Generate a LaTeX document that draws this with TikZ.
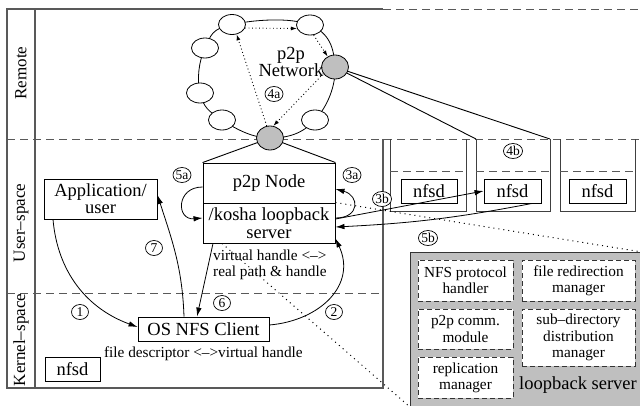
\documentclass[tikz,border=0pt]{standalone}
\usepackage{fontspec}
\setmainfont{Liberation Serif}
\usetikzlibrary{shapes.geometric,arrows.meta}
\newcommand{\fmain}{\fontsize{18.5}{16}\selectfont}
\newcommand{\fsmall}{\fontsize{15.3}{16.2}\selectfont}
\newcommand{\fside}{\fontsize{17}{17}\selectfont}
\newcommand{\flbl}{\fontsize{13.5}{13.5}\selectfont}
\begin{document}
\begin{tikzpicture}[x=1pt,y=1pt,
  frame/.style={draw=black!65, line width=1.1pt},
  sep/.style={draw=black!65, line width=1pt, dash pattern=on 8pt off 5pt},
  ringnode/.style={ellipse, draw, fill=white, line width=0.8pt, minimum width=27pt, minimum height=20pt, inner sep=0pt},
  peer/.style={ringnode, fill=gray!50, minimum height=24pt},
  box/.style={draw, fill=white, line width=0.9pt, align=center, inner sep=0pt, font=\fmain},
  ibox/.style={draw=black!80, fill=white, dash pattern=on 5pt off 3pt, line width=0.9pt, align=center, inner sep=0pt, font=\fsmall},
  lbl/.style={ellipse, draw, fill=white, line width=0.7pt, inner sep=0pt, minimum width=17pt, minimum height=15pt, font=\flbl},
  arr/.style={-{Latex[length=9pt,width=5.5pt]}, line width=0.8pt},
  dotarr/.style={-{Latex[length=6pt,width=4pt]}, line width=0.9pt, dash pattern=on 0.9pt off 2.6pt},
  zoomline/.style={line width=1pt, dash pattern=on 1pt off 4pt},
  col/.style={draw=black!75, line width=1pt},
  plain/.style={line width=0.9pt}
]
\useasboundingbox (0,0) rectangle (640,-405);
\clip (0,0) rectangle (640,-405);

% frame and layer separators
\draw[frame] (383,-9) -- (7,-9) -- (7,-388) -- (383,-388) -- (383,-139);
\draw[frame] (35,-9) -- (35,-388);
\draw[sep] (383,-9) -- (640,-9);
\draw[sep] (7,-139) -- (640,-139);
\draw[sep] (7,-293) -- (383,-293);

\node[rotate=90, font=\fside] (rem) at (21,-73) {Remote};
\node[rotate=90, font=\fside] (usr) at (21,-223) {User–space};
\node[rotate=90, font=\fside] (ker) at (21,-340) {Kernel–space};

% remote nfsd columns
\foreach \a/\b in {390/466, 476/550, 560/635}{
  \draw[col] (\a,-139) -- (\a,-211) -- (\b,-211) -- (\b,-139);
  \draw[sep] (\a,-171) -- (\b,-171);
}
\coordinate (c2a) at (476,-139);
\coordinate (c2b) at (550,-139);

% p2p ring
\coordinate (p1) at (232,-24.5);
\coordinate (p2) at (310,-25);
\coordinate (p3) at (335,-67);
\coordinate (p4) at (315,-120);
\coordinate (p5) at (270,-138);
\coordinate (p6) at (222,-120);
\coordinate (p7) at (200,-93);
\coordinate (p8) at (205,-48);
\draw[line width=0.8pt] plot[smooth cycle, tension=0.7] coordinates {(p1) (p2) (p3) (p4) (p5) (p6) (p7) (p8)};
\node[ringnode] (n1) at (p1) {};
\node[ringnode] (n2) at (p2) {};
\node[peer] (n3) at (p3) {};
\node[ringnode] (n4) at (p4) {};
\node[peer] (n5) at (p5) {};
\node[ringnode] (n6) at (p6) {};
\node[ringnode] (n7) at (p7) {};
\node[ringnode] (n8) at (p8) {};
\node[font=\fontsize{18.5}{15}\selectfont, align=center, inner sep=0pt] (net) at (291,-62) {p2p\\Network};

\draw[dotarr] (n1.-15) -- (n2.-165);
\draw[dotarr] (n2.-70) -- (n3.125);
\draw[dotarr] (n3.-150) -- (n5.75);
\draw[dotarr] (n5.105) -- (n1.-65);

\draw[plain] (n3) -- (c2a);
\draw[plain] (n3) -- (c2b);

% boxes
\node[box, minimum width=132pt, minimum height=40pt] (p2p) at (269,-183) {p2p Node};
\node[box, minimum width=132pt, minimum height=40pt, font=\fontsize{18.5}{17.5}\selectfont] (kosha) at (269,-223) {/kosha loopback\\server};
\node[box, minimum width=113pt, minimum height=40pt, font=\fontsize{18.5}{17}\selectfont] (app) at (100.5,-199) {Application/\\user};
\node[box, minimum width=131pt, minimum height=24pt] (osnfs) at (203.5,-329) {OS NFS Client};
\node[box, minimum width=55pt, minimum height=24pt] (knfsd) at (72.5,-369) {nfsd};
\node[box, minimum width=56pt, minimum height=24pt] (nfsd1) at (429,-191) {nfsd};
\node[box, minimum width=57pt, minimum height=24pt] (nfsd2) at (512.5,-191) {nfsd};
\node[box, minimum width=57pt, minimum height=24pt] (nfsd3) at (597.5,-191) {nfsd};

\draw[plain] (n5) -- (p2p.north west);
\draw[plain] (n5) -- (p2p.north east);

\node[font=\fsmall, align=left, anchor=west, inner sep=0pt] (vh) at (213,-265) {virtual handle <–>\\real path \& handle};
\node[font=\fsmall, inner sep=0pt] (fd) at (203.4,-354) {file descriptor <–>virtual handle};

% loopback server detail
\node[draw=black!80, fill=gray!50, line width=1pt, minimum width=231pt, minimum height=154pt, anchor=north west, inner sep=0pt] (lb) at (410,-252) {};
\node[ibox, minimum width=95pt, minimum height=41pt] (nfsp) at (465.5,-280.5) {NFS protocol\\handler};
\node[ibox, minimum width=113pt, minimum height=41pt] (fred) at (578.5,-280.5) {file redirection\\manager};
\node[ibox, minimum width=95pt, minimum height=40pt] (pcomm) at (465.5,-329) {p2p comm.\\module};
\node[ibox, minimum width=113pt, minimum height=57pt] (subd) at (578.5,-337.5) {sub–directory\\distribution\\manager};
\node[ibox, minimum width=95pt, minimum height=41pt] (repl) at (465.5,-377.5) {replication\\manager};
\node[font=\fmain, inner sep=0pt] (lbt) at (578,-385) {loopback server};

\draw[zoomline] (kosha.north east) -- (lb.north east);
\draw[zoomline] ([xshift=-47pt]kosha.south) -- (lb.south west);

% connectors
\draw[arr] ([xshift=-47.5pt]app.south) to[out=-85, in=160] ([yshift=2pt]osnfs.west);
\draw[arr] ([xshift=-19.5pt]osnfs.north) to[out=92, in=-72] ([yshift=4pt]app.east);
\draw[arr] ([xshift=-56pt]kosha.south) -- ([xshift=-6.5pt]osnfs.north);
\draw[arr] ([yshift=4pt]osnfs.east) to[out=5, in=-65, looseness=1.2] ([yshift=5pt]kosha.south east);
\draw[arr] ([yshift=-4pt]p2p.west) to[out=180, in=185, looseness=2.2] ([yshift=5pt]kosha.west);
\draw[arr] ([yshift=5pt]kosha.east) to[out=0, in=-15, looseness=2.2] ([yshift=-6pt]p2p.east);
\draw[arr] ([yshift=4pt]kosha.east) -- (nfsd2.west);
\draw[arr] ([xshift=19.5pt]nfsd2.south) to[bend left=4] ([yshift=-4pt]kosha.east);

% step labels
\node[lbl] (l1) at (80,-312) {1};
\node[lbl] (l2) at (334,-312) {2};
\node[lbl] (l6) at (222,-303) {6};
\node[lbl] (l7) at (154,-248) {7};
\node[lbl] (l5a) at (182,-175) {5a};
\node[lbl] (l3a) at (352,-175) {3a};
\node[lbl] (l3b) at (382,-199) {3b};
\node[lbl] (l4b) at (513,-151) {4b};
\node[lbl] (l5b) at (428,-238) {5b};
\node[lbl] (l4a) at (274,-94) {4a};
\end{tikzpicture}
\end{document}
